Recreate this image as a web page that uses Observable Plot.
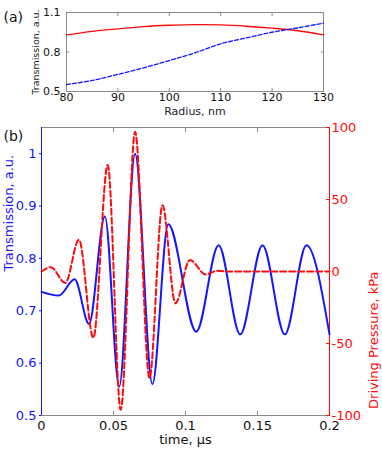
<!DOCTYPE html>
<html><head><meta charset="utf-8">
<script src="https://cdn.jsdelivr.net/npm/d3@7"></script>
<script src="https://cdn.jsdelivr.net/npm/@observablehq/plot@0.6"></script>
<style>
body{margin:0;background:#fff;}
#chart{position:relative;width:382px;height:450px;background:#fff;font-family:'DejaVu Sans',sans-serif;}
#chart svg{display:block;position:absolute;left:0;}
.ylab{position:absolute;white-space:nowrap;transform:translate(-50%,-50%) rotate(-90deg);line-height:1;}
</style>
</head><body><div id="chart"></div>
<script>
// ---- Panel (a) data ----
const radius = [80, 85, 90, 95, 100, 105, 110, 115, 120, 125, 130];
const transRed = [0.93, 0.957, 0.976, 0.993, 1.003, 1.008, 1.006, 0.996, 0.981, 0.961, 0.93];
const transBlue = [0.553, 0.584, 0.63, 0.68, 0.735, 0.794, 0.862, 0.907, 0.95, 0.983, 1.019];
const radiusTicks = [80, 90, 100, 110, 120, 130];
const transTicksA = [0.5, 0.8, 1.1];
const radiusDomain = [80, 130];
const transDomainA = [0.5, 1.1];

// ---- Panel (b) data ----
const timeT = [0, 0.012, 0.023, 0.033, 0.044, 0.054, 0.065, 0.077, 0.088, 0.1075, 0.123, 0.138, 0.1535, 0.169, 0.184, 0.2];
const transT = [0.736, 0.729, 0.76, 0.675, 0.88, 0.555, 1.0, 0.56, 0.865, 0.66, 0.825, 0.655, 0.825, 0.655, 0.825, 0.655];
const timeP = [0, 0.0065, 0.0165, 0.026, 0.036, 0.046, 0.055, 0.065, 0.075, 0.084, 0.093, 0.103, 0.114, 0.122, 0.13, 0.2];
const pressure = [0, 3, -8, 22, -46, 74, -96, 97, -74, 46, -22, 8, -2, 0.5, 0, 0];
const timeTicks = [0, 0.05, 0.1, 0.15, 0.2];
const transTicksB = [0.5, 0.6, 0.7, 0.8, 0.9, 1];
const pressTicks = [-100, -50, 0, 50, 100];
const timeDomain = [0, 0.2];
const transDomainB = [0.5, 1.05];
const pressDomain = [-100, 100];

const BLUE = "#1515ff", RED = "#ff0a0a", GREY = "#8a8a8a";
const FONT = "'DejaVu Sans', sans-serif";

// map pressure into the left (transmission) scale for a shared y
const toT = p => transDomainB[0] + (p - pressDomain[0]) / (pressDomain[1] - pressDomain[0]) * (transDomainB[1] - transDomainB[0]);

const dataA = radius.map((r, i) => ({r, red: transRed[i], blue: transBlue[i]}));
const dataT = timeT.map((t, i) => ({t, v: transT[i]}));
const dataP = timeP.map((t, i) => ({t, v: toT(pressure[i])}));

const plotA = Plot.plot({
  width: 382, height: 120,
  marginTop: 12, marginBottom: 29, marginLeft: 66, marginRight: 59,
  style: {fontFamily: FONT, fontSize: "11px", background: "transparent", color: "#111"},
  x: {domain: radiusDomain},
  y: {domain: transDomainA},
  marks: [
    Plot.frame({stroke: GREY}),
    Plot.axisX({ticks: radiusTicks, tickFormat: d => String(d), tickSize: -3, tickPadding: 5, label: null, stroke: GREY, fill: "#111"}),
    Plot.axisX({anchor: "top", ticks: radiusTicks, tickFormat: () => "", tickSize: -3, label: null, stroke: GREY}),
    Plot.axisY({ticks: transTicksA, tickFormat: d => String(d), tickSize: -3, tickPadding: 9, label: null, stroke: GREY, fill: "#111"}),
    Plot.axisY({anchor: "right", ticks: transTicksA, tickFormat: () => "", tickSize: -3, label: null, stroke: GREY}),
    Plot.line(dataA, {x: "r", y: "red", stroke: RED, strokeWidth: 1.4, curve: "catmull-rom"}),
    Plot.line(dataA, {x: "r", y: "blue", stroke: BLUE, strokeWidth: 1.3, strokeDasharray: "4,2", curve: "catmull-rom"}),
    Plot.text(["Radius, nm"], {frameAnchor: "bottom", dy: 23, fill: "#222", fontSize: 11}),
    Plot.text(["(a)"], {frameAnchor: "top-left", dx: -63, dy: 0, textAnchor: "start", fill: "#111", fontSize: 14})
  ]
});

const plotB = Plot.plot({
  width: 382, height: 330,
  marginTop: 7, marginBottom: 35, marginLeft: 41, marginRight: 53,
  style: {fontFamily: FONT, fontSize: "13px", background: "transparent", color: "#111"},
  x: {domain: timeDomain},
  y: {domain: transDomainB},
  marks: [
    Plot.ruleY([transDomainB[1]], {stroke: GREY}),
    Plot.ruleY([transDomainB[0]], {stroke: GREY}),
    Plot.axisX({ticks: timeTicks, tickFormat: d => String(d), tickSize: -4, tickPadding: 9, label: null, stroke: GREY, fill: "#111"}),
    Plot.axisX({anchor: "top", ticks: timeTicks, tickFormat: () => "", tickSize: -4, label: null, stroke: GREY}),
    Plot.axisY({ticks: transTicksB, tickFormat: d => String(d), tickSize: 2, tickPadding: 3, label: null, stroke: BLUE, fill: BLUE}),
    Plot.axisY({anchor: "right", ticks: pressTicks.map(toT), tickFormat: (d, i) => String(pressTicks[i]), tickSize: -4, tickPadding: 6, label: null, stroke: RED, fill: RED}),
    Plot.ruleX([timeDomain[0]], {stroke: BLUE}),
    Plot.ruleX([timeDomain[1]], {stroke: RED}),
    Plot.line(dataT, {x: "t", y: "v", stroke: BLUE, strokeWidth: 2, curve: "monotone-x"}),
    Plot.line(dataP, {x: "t", y: "v", stroke: RED, strokeWidth: 2, strokeDasharray: "6,3", curve: "monotone-x"}),
    Plot.text(["Transmission, a.u."], {frameAnchor: "left", rotate: -90, dx: -33, fill: BLUE, fontSize: 13}),
    Plot.text(["Driving Pressure, kPa"], {frameAnchor: "right", rotate: -90, dx: 44, fill: RED, fontSize: 13}),
    Plot.text(["time, µs"], {frameAnchor: "bottom", dy: 28, fill: "#111", fontSize: 13}),
    Plot.text(["(b)"], {frameAnchor: "top-left", dx: -38, dy: 4, textAnchor: "start", fill: "#111", fontSize: 14})
  ]
});

plotA.style.top = "0px";
plotB.style.top = "120px";
const chart = document.getElementById("chart");
chart.append(plotA, plotB);

// y-axis title of panel (a), as rotated HTML text
const labA = document.createElement("div");
labA.className = "ylab";
labA.textContent = "Transmission, a.u.";
labA.style.cssText += "left:36px;top:52px;font-size:9.5px;color:#222;";
chart.append(labA);
</script>
</body></html>
